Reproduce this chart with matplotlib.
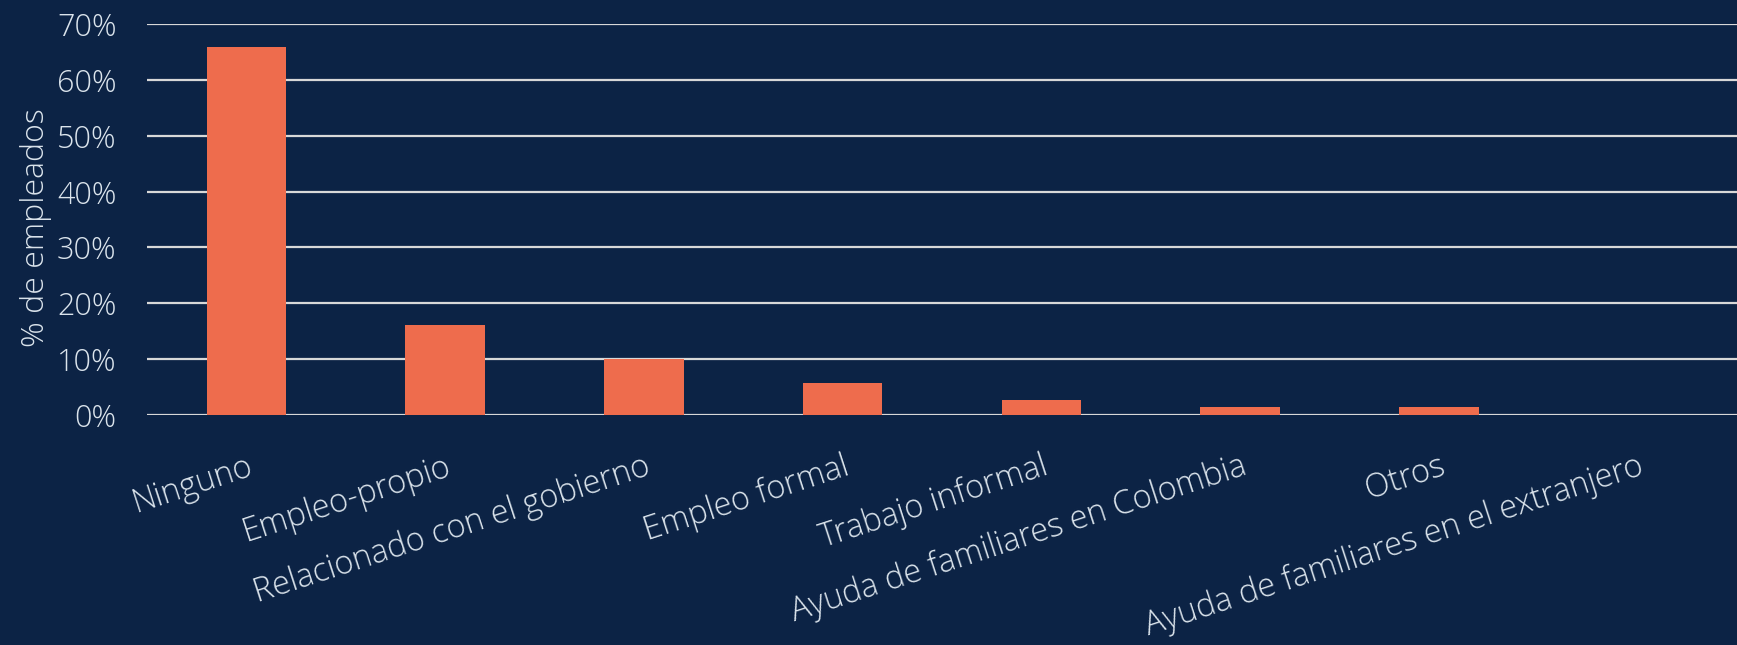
import matplotlib
matplotlib.use("Agg")
import matplotlib.pyplot as plt
from matplotlib.ticker import FuncFormatter

# data
categorias = [
    "Ninguno",
    "Empleo-propio",
    "Relacionado con el gobierno",
    "Empleo formal",
    "Trabajo informal",
    "Ayuda de familiares en Colombia",
    "Otros",
    "Ayuda de familiares en el extranjero",
]
porcentajes = [65.9, 16.1, 10.0, 5.7, 2.7, 1.4, 1.4, 0.0]
y_ticks = [0, 10, 20, 30, 40, 50, 60, 70]

BG = "#0c2345"
BAR = "#ee6c4d"
TXT = "#dbe4ec"
GRID = "#d8d8d8"

plt.rcParams["font.family"] = ["Open Sans", "DejaVu Sans"]
plt.rcParams["font.weight"] = "light"

fig = plt.figure(figsize=(17.37, 6.45), dpi=100, facecolor=BG)
ax = fig.add_axes([0.0846, 0.3566, 0.9154, 0.6062])
ax.set_facecolor(BG)

x = range(len(categorias))
ax.bar(x, porcentajes, width=0.4, color=BAR, zorder=3)

ax.set_xlim(-0.5, len(categorias) - 0.5)
ax.set_ylim(0, 70)
ax.set_yticks(y_ticks)
ax.yaxis.set_major_formatter(FuncFormatter(lambda v, p: f"{v:.0f}%"))
ax.grid(axis="y", color=GRID, linewidth=1.6, zorder=1)
ax.set_axisbelow(True)

for s in ax.spines.values():
    s.set_visible(False)

ax.tick_params(axis="y", length=0, pad=22, labelsize=22, labelcolor=TXT)
ax.tick_params(axis="x", length=0, pad=25, labelsize=23.5, labelcolor=TXT)

ax.set_xticks(list(x))
ax.set_xticklabels(categorias, rotation=18, ha="right",
                   rotation_mode="anchor")

ax.set_ylabel("% de empleados", fontsize=23, color=TXT, fontweight="light")
ax.yaxis.set_label_coords(-0.06, 0.48)

fig.savefig("out.png", dpi=100, facecolor=BG)
